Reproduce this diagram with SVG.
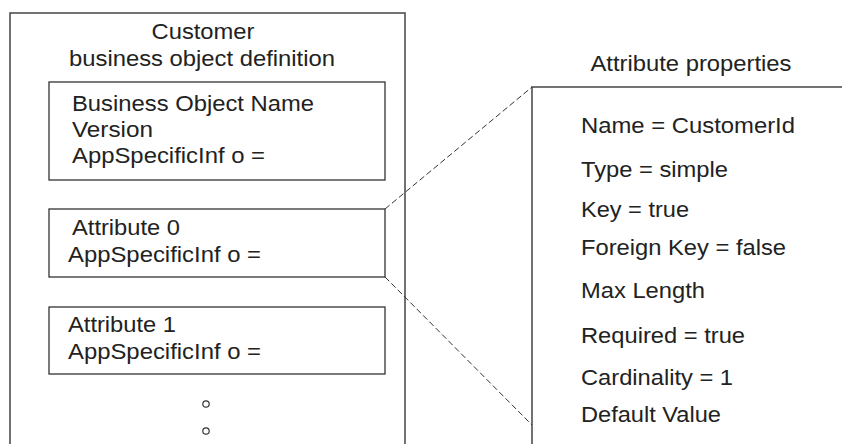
<svg xmlns="http://www.w3.org/2000/svg" width="842" height="444" viewBox="0 0 842 444">
<style>
  text { font-family: "Liberation Sans", Arial, sans-serif; font-size: 22px; fill: #222; }
  .box { fill: none; stroke: #333; stroke-width: 1.3; }
  .frame { fill: none; stroke: #444; stroke-width: 1.5; }
  .dash { fill: none; stroke: #333; stroke-width: 1; stroke-dasharray: 6 3; }
  .dot { fill: none; stroke: #333; stroke-width: 1.2; }
</style>
<rect width="842" height="444" fill="#fff"/>
<g id="bo-definition">
  <path class="frame" d="M10,444 V13 H405 V444"/>
  <text x="203" y="39" text-anchor="middle" textLength="103" lengthAdjust="spacingAndGlyphs">Customer</text>
  <text x="202" y="66" text-anchor="middle" textLength="266" lengthAdjust="spacingAndGlyphs">business object definition</text>
</g>
<g id="header-box">
  <rect class="box" x="49" y="82" width="336" height="98"/>
  <text x="72" y="111" textLength="242" lengthAdjust="spacingAndGlyphs">Business Object Name</text>
  <text x="72" y="137" textLength="81" lengthAdjust="spacingAndGlyphs">Version</text>
  <text x="72" y="163" textLength="193" lengthAdjust="spacingAndGlyphs">AppSpecificInf o =</text>
</g>
<g id="attribute-0">
  <rect class="box" x="49" y="209" width="336" height="68"/>
  <text x="72" y="235" textLength="108" lengthAdjust="spacingAndGlyphs">Attribute 0</text>
  <text x="68" y="262" textLength="193" lengthAdjust="spacingAndGlyphs">AppSpecificInf o =</text>
</g>
<g id="attribute-1">
  <rect class="box" x="49" y="307" width="336" height="67"/>
  <text x="68" y="332" textLength="108" lengthAdjust="spacingAndGlyphs">Attribute 1</text>
  <text x="68" y="359" textLength="193" lengthAdjust="spacingAndGlyphs">AppSpecificInf o =</text>
</g>
<g id="ellipsis">
  <circle class="dot" cx="206" cy="404" r="3.2"/>
  <circle class="dot" cx="206" cy="431" r="3.2"/>
</g>
<g id="attribute-properties">
  <text x="691" y="71" text-anchor="middle" textLength="201" lengthAdjust="spacingAndGlyphs">Attribute properties</text>
  <path class="frame" d="M842,87 H532 V444"/>
  <text x="581" y="133" textLength="214" lengthAdjust="spacingAndGlyphs">Name = CustomerId</text>
  <text x="581" y="177" textLength="147" lengthAdjust="spacingAndGlyphs">Type = simple</text>
  <text x="581" y="217" textLength="108" lengthAdjust="spacingAndGlyphs">Key = true</text>
  <text x="581" y="255" textLength="205" lengthAdjust="spacingAndGlyphs">Foreign Key = false</text>
  <text x="581" y="298" textLength="124" lengthAdjust="spacingAndGlyphs">Max Length</text>
  <text x="581" y="343" textLength="164" lengthAdjust="spacingAndGlyphs">Required = true</text>
  <text x="581" y="385" textLength="152" lengthAdjust="spacingAndGlyphs">Cardinality = 1</text>
  <text x="581" y="422" textLength="140" lengthAdjust="spacingAndGlyphs">Default Value</text>
</g>
<g id="connectors">
  <line class="dash" x1="385" y1="209" x2="532" y2="87"/>
  <line class="dash" x1="385" y1="277" x2="532" y2="425"/>
</g>
</svg>
